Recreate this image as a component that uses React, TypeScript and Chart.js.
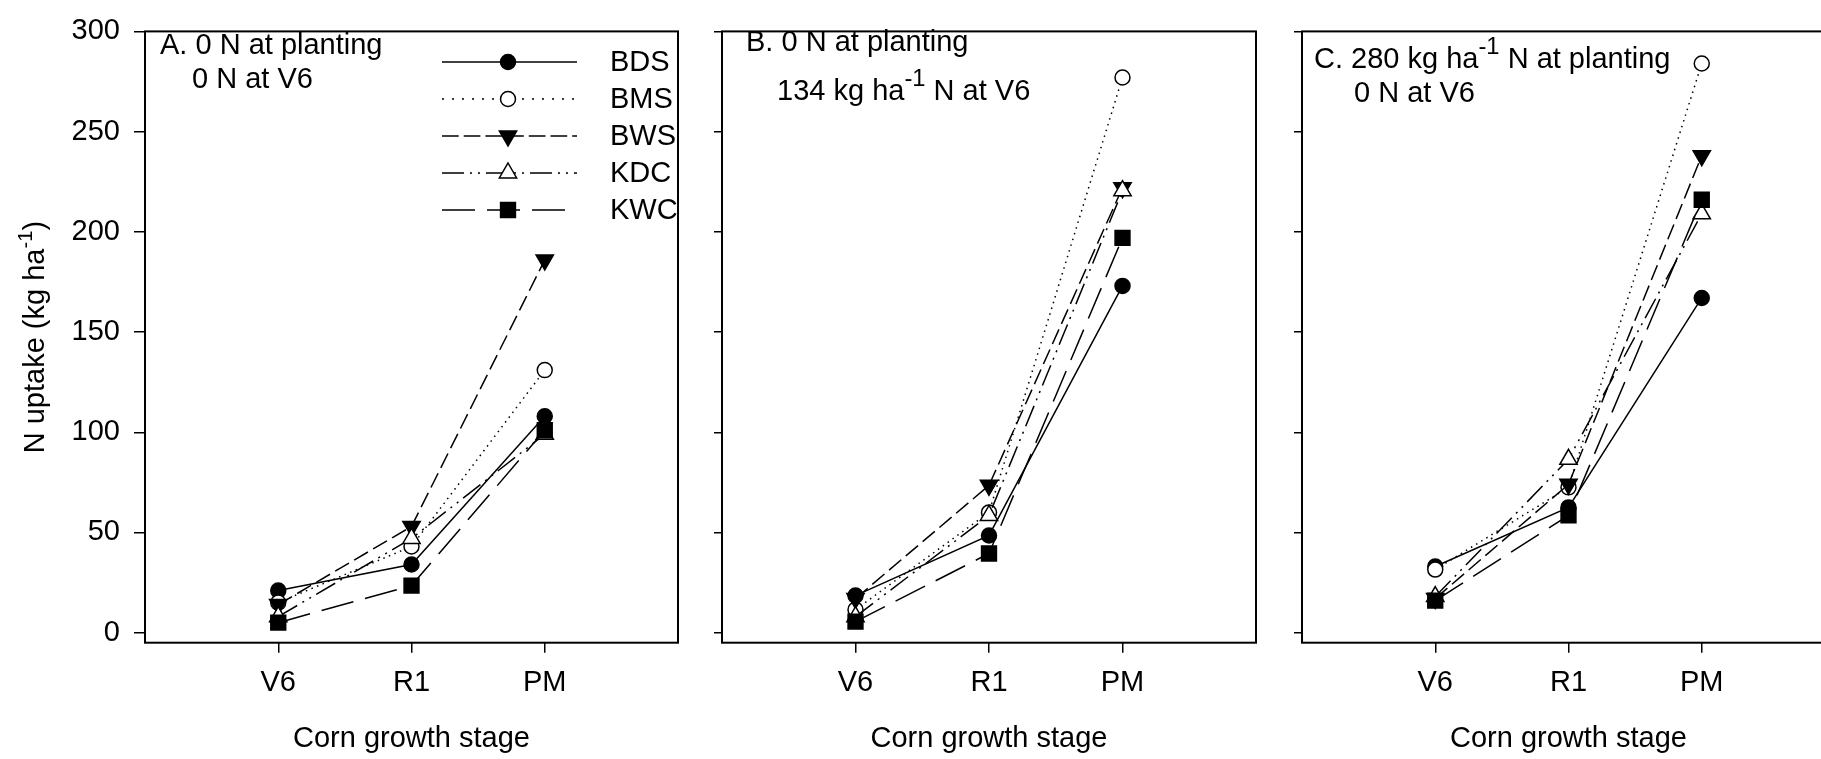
import React, { useEffect, useRef } from 'react';
import { Chart, registerables } from 'chart.js';

Chart.register(...registerables);

// ---------------- data ----------------
const stages = ['V6', 'R1', 'PM'];
const seriesNames = ['BDS', 'BMS', 'BWS', 'KDC', 'KWC'];
const yTickValues = [0, 50, 100, 150, 200, 250, 300];

// Panel A: 0 N at planting, 0 N at V6
const panelA_BDS = [21, 34, 108];
const panelA_BMS = [15, 43, 131];
const panelA_BWS = [14, 53, 186];
const panelA_KDC = [8, 47, 99];
const panelA_KWC = [5, 23.5, 101];

// Panel B: 0 N at planting, 134 kg/ha N at V6
const panelB_BDS = [18.5, 48.5, 173];
const panelB_BMS = [11.5, 60, 277];
const panelB_BWS = [17, 73.5, 222];
const panelB_KDC = [8, 58.5, 220.5];
const panelB_KWC = [5.5, 39.5, 197];

// Panel C: 280 kg/ha N at planting, 0 N at V6
const panelC_BDS = [33, 62.5, 167];
const panelC_BMS = [31.5, 72.5, 284];
const panelC_BWS = [17, 74, 238];
const panelC_KDC = [18, 86.5, 209];
const panelC_KWC = [16, 58.5, 216];

const yTitleText = 'N uptake (kg ha';
const xTitleText = 'Corn growth stage';

// ---------------- styles ----------------
const FONT = '"Liberation Sans", Arial, Helvetica, sans-serif';
const H = 759;
const FS = 29;

type Marker = 'circle' | 'triDown' | 'triUp' | 'rect';
const seriesStyle: { dash: number[]; legendDash: number[]; marker: Marker; fill: string; r: number }[] = [
  { dash: [], legendDash: [], marker: 'circle', fill: '#000', r: 7.5 },
  { dash: [1.5, 4.5], legendDash: [2, 8], marker: 'circle', fill: '#fff', r: 7.5 },
  { dash: [16, 6], legendDash: [16.7, 5], marker: 'triDown', fill: '#000', r: 10 },
  { dash: [22, 6, 2, 6, 2, 6], legendDash: [22, 6, 2, 6, 2, 6], marker: 'triUp', fill: '#fff', r: 10 },
  { dash: [33, 12], legendDash: [33, 12], marker: 'rect', fill: '#000', r: 10.5 },
];

type Seg = { t: string; sup?: boolean };
type Note = { x: number; y: number; segs: Seg[] };

interface PanelSpec {
  key: string;
  left: number;
  width: number;
  areaLeft: number;
  areaRight: number;
  showYLabels: boolean;
  yTickLen: number;
  values: number[][];
  notes: Note[];
  legend: boolean;
  yTitle: boolean;
}

function richWidth(ctx: CanvasRenderingContext2D, segs: Seg[], size: number, supScale: number) {
  let w = 0;
  for (const s of segs) {
    ctx.font = `${s.sup ? size * supScale : size}px ${FONT}`;
    w += ctx.measureText(s.t).width;
  }
  return w;
}

function drawRich(
  ctx: CanvasRenderingContext2D,
  segs: Seg[],
  x: number,
  y: number,
  size: number,
  supScale: number,
  supRaise: number,
) {
  let cx = x;
  ctx.textAlign = 'left';
  ctx.textBaseline = 'alphabetic';
  for (const s of segs) {
    const fs = s.sup ? size * supScale : size;
    ctx.font = `${fs}px ${FONT}`;
    ctx.fillText(s.t, cx, s.sup ? y - size * supRaise : y);
    cx += ctx.measureText(s.t).width;
  }
}

function drawMarker(ctx: CanvasRenderingContext2D, m: Marker, x: number, y: number, r: number, fill: string) {
  ctx.beginPath();
  if (m === 'circle') {
    ctx.arc(x, y, r, 0, Math.PI * 2);
  } else if (m === 'triDown') {
    ctx.moveTo(x, y + r);
    ctx.lineTo(x - r * 0.866, y - r / 2);
    ctx.lineTo(x + r * 0.866, y - r / 2);
    ctx.closePath();
  } else if (m === 'triUp') {
    ctx.moveTo(x, y - r);
    ctx.lineTo(x + r * 0.866, y + r / 2);
    ctx.lineTo(x - r * 0.866, y + r / 2);
    ctx.closePath();
  } else {
    const s = r * Math.SQRT1_2;
    ctx.rect(x - s, y - s, 2 * s, 2 * s);
  }
  ctx.fillStyle = fill;
  ctx.fill();
  ctx.setLineDash([]);
  ctx.lineWidth = 1.5;
  ctx.strokeStyle = '#000';
  ctx.stroke();
}

function makeExtras(spec: PanelSpec) {
  return {
    id: 'extras' + spec.key,
    afterDraw(chart: any) {
      const ctx: CanvasRenderingContext2D = chart.ctx;
      const a = chart.chartArea;
      ctx.save();
      // frame
      ctx.setLineDash([]);
      ctx.strokeStyle = '#000';
      ctx.lineWidth = 2;
      ctx.strokeRect(a.left, a.top, a.right - a.left, a.bottom - a.top);

      ctx.fillStyle = '#000';
      // panel notes
      for (const n of spec.notes) drawRich(ctx, n.segs, n.x, n.y, FS, 0.82, 0.48);

      // x title
      ctx.font = `${FS}px ${FONT}`;
      ctx.textAlign = 'center';
      ctx.textBaseline = 'middle';
      ctx.fillStyle = '#000';
      ctx.fillText(xTitleText, (a.left + a.right) / 2, 739);

      // y title
      if (spec.yTitle) {
        const segs: Seg[] = [{ t: yTitleText }, { t: '-1', sup: true }, { t: ')' }];
        const w = richWidth(ctx, segs, FS, 0.7);
        ctx.save();
        ctx.translate(44, (a.top + a.bottom) / 2);
        ctx.rotate(-Math.PI / 2);
        drawRich(ctx, segs, -w / 2, 0, FS, 0.7, 0.42);
        ctx.restore();
      }

      // legend
      if (spec.legend) {
        const x0 = 442;
        const x1 = 577;
        const mx = 508;
        const tx = 610;
        seriesNames.forEach((name, i) => {
          const st = seriesStyle[i];
          const y = 62 + 37 * i;
          ctx.beginPath();
          ctx.setLineDash(st.legendDash);
          ctx.lineWidth = 1.5;
          ctx.strokeStyle = '#000';
          ctx.moveTo(x0, y);
          ctx.lineTo(x1, y);
          ctx.stroke();
          drawMarker(ctx, st.marker, mx, y, st.r, st.fill);
          ctx.fillStyle = '#000';
          ctx.font = `${FS}px ${FONT}`;
          ctx.textAlign = 'left';
          ctx.textBaseline = 'middle';
          ctx.fillText(name, tx, y + 1);
        });
      }
      ctx.restore();
    },
  };
}

const pointStyleMap: Record<Marker, string> = {
  circle: 'circle',
  triDown: 'triangle',
  triUp: 'triangle',
  rect: 'rect',
};

function Panel({ spec }: { spec: PanelSpec }) {
  const ref = useRef<HTMLCanvasElement>(null);
  useEffect(() => {
    const canvas = ref.current;
    if (!canvas) return;
    const datasets = seriesNames.map((name, i) => {
      const st = seriesStyle[i];
      return {
        label: name,
        data: spec.values[i].map((v, j) => ({ x: j + 1, y: v })),
        borderColor: '#000',
        borderWidth: 1.5,
        borderDash: st.dash,
        pointStyle: pointStyleMap[st.marker],
        pointRotation: st.marker === 'triDown' ? 180 : 0,
        pointRadius: st.r,
        pointHoverRadius: st.r,
        pointBackgroundColor: st.fill,
        pointBorderColor: '#000',
        pointBorderWidth: 1.5,
        fill: false,
        tension: 0,
        order: seriesNames.length - i,
      };
    });
    const chart = new Chart(canvas, {
      type: 'line',
      data: { datasets } as any,
      plugins: [makeExtras(spec) as any],
      options: {
        animation: false,
        responsive: false,
        devicePixelRatio: 1,
        events: [],
        layout: { padding: { left: 0, right: spec.width - spec.areaRight, top: 21, bottom: 0 } },
        plugins: { legend: { display: false }, tooltip: { enabled: false }, title: { display: false } },
        scales: {
          x: {
            type: 'linear',
            min: 0,
            max: 4,
            afterBuildTicks: (s: any) => {
              s.ticks = stages.map((_, i) => ({ value: i + 1 }));
            },
            afterFit: (s: any) => {
              s.height = H - 642.7;
            },
            ticks: {
              callback: (v: any) => stages[Number(v) - 1] ?? '',
              font: { size: FS, family: FONT },
              color: '#000',
              padding: 13,
              maxRotation: 0,
              autoSkip: false,
            },
            grid: {
              display: true,
              drawOnChartArea: false,
              drawTicks: true,
              tickLength: 10,
              color: '#000',
              tickColor: '#000',
              lineWidth: 1.5,
            },
            border: { display: false },
          },
          y: {
            type: 'linear',
            min: -5,
            max: 300,
            afterBuildTicks: (s: any) => {
              s.ticks = yTickValues.map((v) => ({ value: v }));
            },
            afterFit: (s: any) => {
              s.width = spec.areaLeft;
            },
            ticks: {
              callback: (v: any) => (spec.showYLabels ? String(v) : ''),
              font: { size: FS, family: FONT },
              color: '#000',
              padding: 14,
            },
            grid: {
              display: true,
              drawOnChartArea: false,
              drawTicks: true,
              tickLength: spec.yTickLen,
              color: '#000',
              tickColor: '#000',
              lineWidth: 1.5,
            },
            border: { display: false },
          },
        },
      } as any,
    });
    return () => chart.destroy();
  }, []);
  return (
    <canvas
      ref={ref}
      width={spec.width}
      height={H}
      style={{ position: 'absolute', left: spec.left, top: 0, width: spec.width, height: H }}
    />
  );
}

const panels: PanelSpec[] = [
  {
    key: 'A',
    left: 0,
    width: 690,
    areaLeft: 145,
    areaRight: 679,
    showYLabels: true,
    yTickLen: 11,
    values: [panelA_BDS, panelA_BMS, panelA_BWS, panelA_KDC, panelA_KWC],
    notes: [
      { x: 160, y: 54, segs: [{ t: 'A. 0 N at planting' }] },
      { x: 192, y: 88, segs: [{ t: '0 N at V6' }] },
    ],
    legend: true,
    yTitle: true,
  },
  {
    key: 'B',
    left: 700,
    width: 590,
    areaLeft: 22,
    areaRight: 556,
    showYLabels: false,
    yTickLen: 8,
    values: [panelB_BDS, panelB_BMS, panelB_BWS, panelB_KDC, panelB_KWC],
    notes: [
      { x: 46, y: 51, segs: [{ t: 'B. 0 N at planting' }] },
      { x: 77, y: 100, segs: [{ t: '134 kg ha' }, { t: '-1', sup: true }, { t: ' N at V6' }] },
    ],
    legend: false,
    yTitle: false,
  },
  {
    key: 'C',
    left: 1280,
    width: 580,
    areaLeft: 22,
    areaRight: 555,
    showYLabels: false,
    yTickLen: 8,
    values: [panelC_BDS, panelC_BMS, panelC_BWS, panelC_KDC, panelC_KWC],
    notes: [
      { x: 34, y: 68, segs: [{ t: 'C. 280 kg ha' }, { t: '-1', sup: true }, { t: ' N at planting' }] },
      { x: 74, y: 102, segs: [{ t: '0 N at V6' }] },
    ],
    legend: false,
    yTitle: false,
  },
];

export default function App() {
  return (
    <div
      style={{
        position: 'fixed',
        left: 0,
        top: 0,
        width: 1821,
        height: H,
        overflow: 'hidden',
        background: '#fff',
      }}
    >
      {panels.map((p) => (
        <Panel key={p.key} spec={p} />
      ))}
    </div>
  );
}
